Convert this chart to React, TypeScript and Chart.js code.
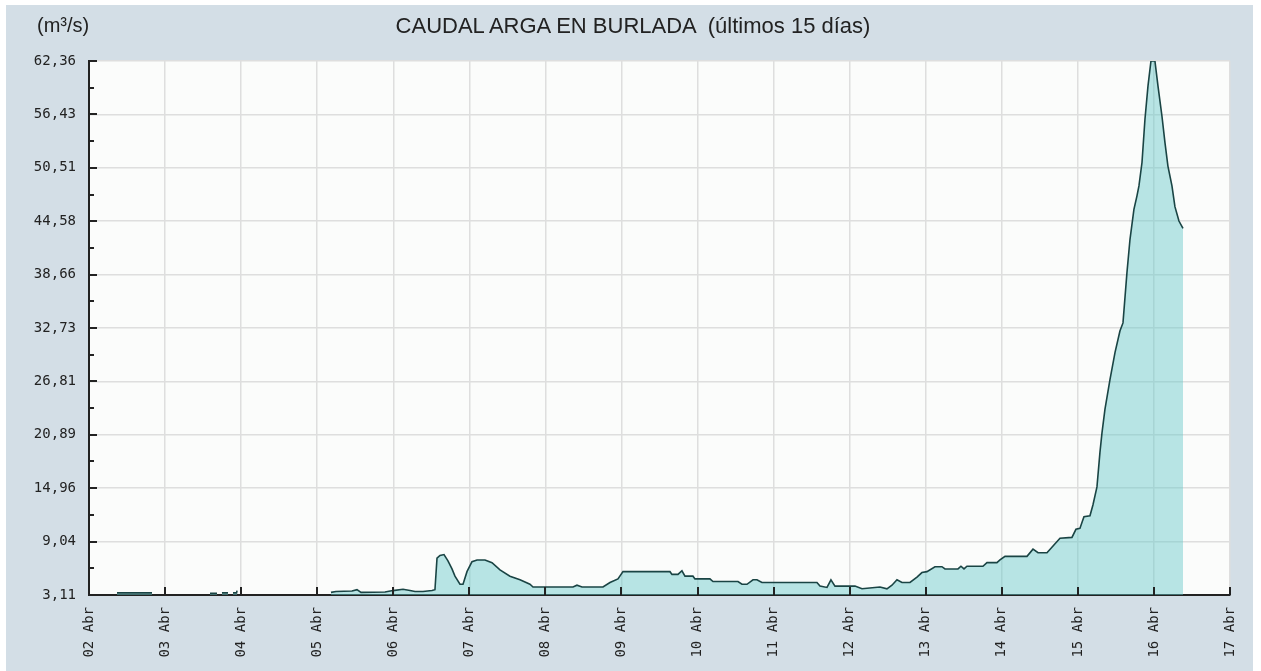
import React, { useEffect, useRef } from "react";
import { Chart, registerables } from "chart.js";

Chart.register(...registerables);

const TITLE = "CAUDAL ARGA EN BURLADA  (últimos 15 días)";
const UNIT = "(m³/s)";

const X_TICK_LABELS = [
  "02 Abr", "03 Abr", "04 Abr", "05 Abr", "06 Abr", "07 Abr", "08 Abr", "09 Abr",
  "10 Abr", "11 Abr", "12 Abr", "13 Abr", "14 Abr", "15 Abr", "16 Abr", "17 Abr",
];

const Y_TICKS = [3.11, 9.04, 14.96, 20.89, 26.81, 32.73, 38.66, 44.58, 50.51, 56.43, 62.36];

// days elapsed since 02 Abr 00:00
const DAY = [
  0.368, 0.828, 0.83,
  1.591, 1.683, 1.7,
  1.748, 1.827, 1.85,
  1.893, 1.94, 1.946, 1.96,
  3.181, 3.247, 3.457, 3.523, 3.576, 3.891, 3.996, 4.128, 4.22, 4.286,
  4.391, 4.509, 4.548, 4.575, 4.614, 4.667, 4.719, 4.772, 4.811, 4.877,
  4.917, 4.969, 5.035, 5.101, 5.206, 5.298, 5.403, 5.534, 5.666, 5.797,
  5.837, 6.363, 6.415, 6.481, 6.757, 6.849, 6.954, 7.02, 7.638, 7.664,
  7.743, 7.795, 7.835, 7.94, 7.966, 8.163, 8.203, 8.532, 8.584, 8.65,
  8.729, 8.781, 8.847, 9.57, 9.61, 9.702, 9.754, 9.807, 10.07, 10.162,
  10.398, 10.49, 10.556, 10.622, 10.688, 10.793, 10.885, 10.95, 11.016, 11.121,
  11.213, 11.253, 11.424, 11.463, 11.503, 11.542, 11.752, 11.805, 11.936, 11.976,
  12.042, 12.331, 12.41, 12.476, 12.594, 12.765, 12.922, 12.975, 13.027, 13.08,
  13.159, 13.198, 13.251, 13.29, 13.317, 13.356, 13.422, 13.488, 13.553, 13.593,
  13.645, 13.685, 13.737, 13.777, 13.803, 13.843, 13.882, 13.922, 13.961, 14.013,
  14.053, 14.106, 14.145, 14.184, 14.237, 14.276, 14.329, 14.382,
];

const FLOW: (number | null)[] = [
  3.35, 3.35, null,
  3.3, 3.3, null,
  3.35, 3.35, null,
  3.35, 3.35, 3.6, null,
  3.4, 3.5, 3.55, 3.7, 3.4, 3.45, 3.6, 3.75, 3.6, 3.5,
  3.5, 3.6, 3.7, 7.2, 7.5, 7.6, 6.9, 6.0, 5.2, 4.3,
  4.3, 5.7, 6.8, 7.0, 7.0, 6.7, 5.9, 5.2, 4.8, 4.3,
  4.0, 4.0, 4.2, 4.0, 4.0, 4.5, 4.9, 5.7, 5.7, 5.4,
  5.4, 5.8, 5.2, 5.2, 4.9, 4.9, 4.6, 4.6, 4.3, 4.3,
  4.8, 4.8, 4.5, 4.5, 4.1, 3.95, 4.8, 4.1, 4.1, 3.8,
  4.0, 3.8, 4.2, 4.8, 4.5, 4.5, 5.1, 5.6, 5.7, 6.25,
  6.25, 6.0, 6.0, 6.3, 6.0, 6.3, 6.3, 6.7, 6.7, 7.0,
  7.4, 7.4, 8.2, 7.8, 7.8, 9.4, 9.5, 10.4, 10.5, 11.8,
  11.9, 13.1, 15.1, 18.9, 21.1, 23.7, 27.0, 30.0, 32.4, 33.3,
  38.85, 42.55, 45.9, 47.4, 48.5, 51.1, 55.9, 59.6, 62.36, 62.36,
  59.6, 56.2, 53.3, 50.7, 48.5, 46.2, 44.6, 43.8,
];

const TICK_FONT = { family: "'DejaVu Sans Mono', monospace", size: 14 };

const plotBackground = {
  id: "plotBackground",
  beforeDraw(chart: any) {
    const { ctx, chartArea } = chart;
    ctx.save();
    ctx.fillStyle = "#fbfcfb";
    ctx.fillRect(chartArea.left, chartArea.top, chartArea.right - chartArea.left, chartArea.bottom - chartArea.top);
    ctx.restore();
  },
};

const inwardTicks = {
  id: "inwardTicks",
  afterDatasetsDraw(chart: any) {
    const { ctx, chartArea, scales } = chart;
    const x = scales.x;
    const y = scales.y;
    ctx.save();
    ctx.strokeStyle = "#222";
    ctx.lineWidth = 2;
    ctx.beginPath();
    X_TICK_LABELS.forEach((_, i) => {
      const px = Math.round(x.getPixelForValue(i));
      ctx.moveTo(px, chartArea.bottom);
      ctx.lineTo(px, chartArea.bottom - 8);
    });
    Y_TICKS.forEach((v, i) => {
      const py = Math.round(y.getPixelForValue(v));
      ctx.moveTo(chartArea.left, py);
      ctx.lineTo(chartArea.left + 8, py);
      if (i < Y_TICKS.length - 1) {
        const pm = Math.round(y.getPixelForValue((v + Y_TICKS[i + 1]) / 2));
        ctx.moveTo(chartArea.left, pm);
        ctx.lineTo(chartArea.left + 5, pm);
      }
    });
    ctx.stroke();
    ctx.restore();
  },
};

export default function App() {
  const canvasRef = useRef<HTMLCanvasElement | null>(null);

  useEffect(() => {
    const canvas = canvasRef.current;
    if (!canvas) return;
    const points = DAY.map((d, i) => ({ x: d, y: FLOW[i] }));
    const chart = new Chart(canvas, {
      type: "line",
      data: {
        datasets: [
          {
            data: points as any,
            borderColor: "#1a4444",
            borderWidth: 1.6,
            backgroundColor: "rgba(100, 200, 200, 0.45)",
            fill: "start",
            pointRadius: 0,
            tension: 0,
            spanGaps: false,
          },
        ],
      },
      options: {
        animation: false,
        responsive: false,
        maintainAspectRatio: false,
        layout: { padding: { top: 56, right: 23, left: 0, bottom: 0 } },
        plugins: { legend: { display: false }, tooltip: { enabled: false }, title: { display: false } },
        scales: {
          x: {
            type: "linear",
            min: 0,
            max: 15,
            afterBuildTicks: (scale: any) => {
              scale.ticks = X_TICK_LABELS.map((_, i) => ({ value: i }));
            },
            afterFit: (scale: any) => {
              scale.height = 76;
              scale.paddingLeft = 0;
              scale.paddingRight = 0;
            },
            ticks: {
              autoSkip: false,
              minRotation: 90,
              maxRotation: 90,
              padding: 12,
              color: "#222",
              font: TICK_FONT,
              callback: (v: any) => X_TICK_LABELS[Math.round(Number(v))] ?? "",
            },
            grid: { color: "#dedede", lineWidth: 1.5, drawTicks: false },
            border: { display: true, color: "#222", width: 2 },
          },
          y: {
            type: "linear",
            min: Y_TICKS[0],
            max: Y_TICKS[Y_TICKS.length - 1],
            afterBuildTicks: (scale: any) => {
              scale.ticks = Y_TICKS.map((v) => ({ value: v }));
            },
            afterFit: (scale: any) => {
              scale.width = 83;
              scale.paddingTop = 0;
              scale.paddingBottom = 0;
            },
            ticks: {
              padding: 13,
              color: "#222",
              font: TICK_FONT,
              callback: (v: any) => Number(v).toFixed(2).replace(".", ","),
            },
            grid: { color: "#dedede", lineWidth: 1.5, drawTicks: false },
            border: { display: true, color: "#222", width: 2 },
          },
        },
      },
      plugins: [plotBackground, inwardTicks],
    });
    return () => chart.destroy();
  }, []);

  return (
    <div
      style={{
        position: "absolute",
        left: 6,
        top: 5,
        width: 1247,
        height: 666,
        background: "#d3dee6",
      }}
    >
      <canvas ref={canvasRef} width={1247} height={666} style={{ display: "block" }} />
      <div
        style={{
          position: "absolute",
          left: 627,
          top: 8,
          transform: "translateX(-50%)",
          whiteSpace: "pre",
          font: "22px 'Liberation Sans', Arial, sans-serif",
          color: "#222",
        }}
      >
        {TITLE}
      </div>
      <div
        style={{
          position: "absolute",
          left: 31,
          top: 9,
          whiteSpace: "pre",
          font: "20px 'Liberation Sans', Arial, sans-serif",
          color: "#222",
        }}
      >
        {UNIT}
      </div>
    </div>
  );
}
